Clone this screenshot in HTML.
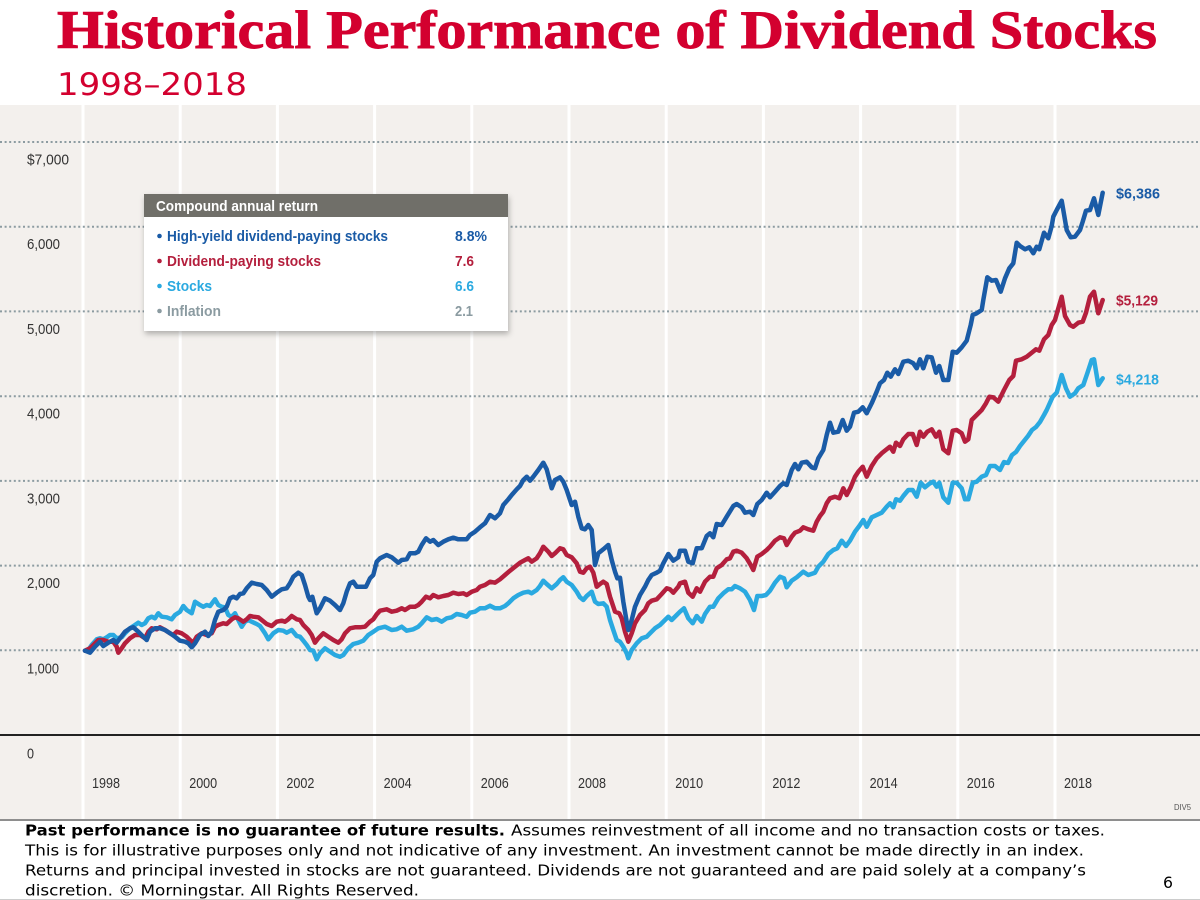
<!DOCTYPE html>
<html>
<head>
<meta charset="utf-8">
<style>
  html, body { margin:0; padding:0; background:#ffffff; }
  body { width:1200px; height:900px; overflow:hidden; }
  svg { display:block; }
</style>
</head>
<body>
<svg width="1200" height="900" viewBox="0 0 1200 900" xmlns="http://www.w3.org/2000/svg">
  <defs>
    <filter id="sh" x="-10%" y="-10%" width="125%" height="130%">
      <feDropShadow dx="1" dy="3" stdDeviation="3" flood-color="#000" flood-opacity="0.28"/>
    </filter>
  </defs>

  <!-- Title -->
  <text x="57" y="48" font-family="'Liberation Serif', serif" font-weight="bold" font-size="54" fill="#d3002f" stroke="#d3002f" stroke-width="0.9" textLength="1100" lengthAdjust="spacingAndGlyphs">Historical Performance of Dividend Stocks</text>
  <text x="57" y="95" font-family="'DejaVu Sans', 'Liberation Sans', sans-serif" font-size="31" fill="#d3002f" textLength="190" lengthAdjust="spacingAndGlyphs">1998–2018</text>

  <!-- Chart background -->
  <rect x="0" y="105" width="1200" height="714" fill="#f3f0ed"/>

  <!-- vertical white lines -->
  <g stroke="#ffffff" stroke-width="3">
    <line x1="83" y1="105" x2="83" y2="819"/>
    <line x1="180.2" y1="105" x2="180.2" y2="819"/>
    <line x1="277.4" y1="105" x2="277.4" y2="819"/>
    <line x1="374.6" y1="105" x2="374.6" y2="819"/>
    <line x1="471.8" y1="105" x2="471.8" y2="819"/>
    <line x1="569" y1="105" x2="569" y2="819"/>
    <line x1="666.2" y1="105" x2="666.2" y2="819"/>
    <line x1="763.4" y1="105" x2="763.4" y2="819"/>
    <line x1="860.6" y1="105" x2="860.6" y2="819"/>
    <line x1="957.8" y1="105" x2="957.8" y2="819"/>
    <line x1="1055" y1="105" x2="1055" y2="819"/>
  </g>

  <!-- dotted gridlines -->
  <g stroke="#8c9ba1" stroke-width="2" stroke-dasharray="2 2.6">
    <line x1="0" y1="142" x2="1200" y2="142"/>
    <line x1="0" y1="226.7" x2="1200" y2="226.7"/>
    <line x1="0" y1="311.4" x2="1200" y2="311.4"/>
    <line x1="0" y1="396.2" x2="1200" y2="396.2"/>
    <line x1="0" y1="480.9" x2="1200" y2="480.9"/>
    <line x1="0" y1="565.6" x2="1200" y2="565.6"/>
    <line x1="0" y1="650.3" x2="1200" y2="650.3"/>
  </g>
  <!-- zero axis -->
  <line x1="0" y1="735" x2="1200" y2="735" stroke="#222" stroke-width="2"/>

  <!-- Y labels -->
  <g font-family="'Liberation Sans', sans-serif" font-size="15" fill="#333">
    <text x="27" y="164.5" textLength="42" lengthAdjust="spacingAndGlyphs">$7,000</text>
    <text x="27" y="249.2" textLength="33" lengthAdjust="spacingAndGlyphs">6,000</text>
    <text x="27" y="333.9" textLength="33" lengthAdjust="spacingAndGlyphs">5,000</text>
    <text x="27" y="418.7" textLength="33" lengthAdjust="spacingAndGlyphs">4,000</text>
    <text x="27" y="503.4" textLength="33" lengthAdjust="spacingAndGlyphs">3,000</text>
    <text x="27" y="588.1" textLength="33" lengthAdjust="spacingAndGlyphs">2,000</text>
    <text x="27" y="673.3" textLength="32" lengthAdjust="spacingAndGlyphs">1,000</text>
    <text x="27" y="758.5" textLength="7" lengthAdjust="spacingAndGlyphs">0</text>
  </g>

  <!-- X labels -->
  <g font-family="'Liberation Sans', sans-serif" font-size="15" fill="#333">
    <text x="92" y="788" textLength="28" lengthAdjust="spacingAndGlyphs">1998</text>
    <text x="189.2" y="788" textLength="28" lengthAdjust="spacingAndGlyphs">2000</text>
    <text x="286.4" y="788" textLength="28" lengthAdjust="spacingAndGlyphs">2002</text>
    <text x="383.6" y="788" textLength="28" lengthAdjust="spacingAndGlyphs">2004</text>
    <text x="480.8" y="788" textLength="28" lengthAdjust="spacingAndGlyphs">2006</text>
    <text x="578" y="788" textLength="28" lengthAdjust="spacingAndGlyphs">2008</text>
    <text x="675.2" y="788" textLength="28" lengthAdjust="spacingAndGlyphs">2010</text>
    <text x="772.4" y="788" textLength="28" lengthAdjust="spacingAndGlyphs">2012</text>
    <text x="869.6" y="788" textLength="28" lengthAdjust="spacingAndGlyphs">2014</text>
    <text x="966.8" y="788" textLength="28" lengthAdjust="spacingAndGlyphs">2016</text>
    <text x="1064" y="788" textLength="28" lengthAdjust="spacingAndGlyphs">2018</text>
  </g>
  <text x="1174" y="810" font-family="'Liberation Sans', sans-serif" font-size="8" fill="#555" textLength="17" lengthAdjust="spacingAndGlyphs">DIV5</text>

  <!-- Series -->
  <g fill="none" stroke-width="4.5" stroke-linejoin="round" stroke-linecap="round">
    <polyline stroke="#2aa9e0" points="85,650.7 88.3,650 91.7,645 96.7,639.3 100,638.3 103.3,639.3 106.7,637.3 110,635 113.3,635 116.7,638.3 121.7,637.3 125,633.3 130,628.3 135,625 138.3,622.7 141.7,625 145,623.3 148.3,618.3 151.7,616.7 155,618.3 158.3,613.3 161.7,616.7 166.7,617.3 171.7,619.3 175,615 180,611.7 183.3,606 186.7,610 191.7,613.3 195,601.7 200,605 203.3,606.7 206.7,605 210,606 215,599.3 218.3,605 221.7,606.7 225,607.3 228.3,615 231.7,616.7 235,613.3 238.3,620 241.7,626.7 245,621.7 248.3,620 251.7,621.7 256.7,624 260,626 265,633.3 268.3,639.3 273.3,633.3 278.3,630 283.3,630.7 286.7,632.7 291.7,630 296.7,636 300,636.7 303.3,640.7 306.7,645 310,650 313.3,650.7 316.7,659.3 320,653.3 325,648.3 330,651.7 335,655 340,656.7 343.3,655 348.3,648.3 353.3,644 358.3,642.7 363.3,640.7 368.3,635 373.3,631.7 378.3,628.3 385,626.7 391.7,630 396.7,629.3 401.7,626.7 406.7,630.7 413.3,629.3 418.3,626.7 421.7,623.3 426.7,617.3 431.7,620 436.7,619 441.7,621.7 446.7,618.3 451.7,617.3 456.7,614 461.7,615 466.7,616.7 470,612.7 475,611.7 480,608.3 485,608.3 490,605.7 495,608.3 500,608.3 505,606 508.3,603.3 513.3,598.3 518.3,595 523.3,592.7 528.3,591.7 531.7,593.3 536.7,590 540,586 543.3,580.7 546.7,584 551.7,588.3 556.7,584 560,580 563.3,577.3 566.7,581.7 571.7,585 576.7,591.7 580,597.3 583.3,600 586.7,596 591.7,591.7 595,601.7 598.3,604 603.3,603.3 606.7,606.7 610,620 613.3,630 616.7,640 620,641.7 623.3,646.7 626.7,653.3 628.3,658.3 631.7,650 636.7,643.3 641.7,638.3 646.7,636.7 650,633.3 655,628.3 660,625 665,620 668.3,616.7 671.7,620 676.7,615 680,611.7 684,608.3 688.3,618.3 692.7,623.3 696.7,616 701.7,621.7 705,614 710,606.7 713.3,606.7 718.3,598.3 723.3,593.3 728.3,589.3 731.7,589.3 735,586 740,588.3 745,591.7 750,600 754,610 757.3,596 761.7,596 766,595 770,590.7 775,582.7 780,576.7 784,578.3 786.7,587.3 791.7,580.7 796.7,577.3 803.3,571.7 808.3,575 815,572.7 818.3,566.7 823.3,561.7 828.3,554 833.3,550 837.3,548.3 841.7,540.7 846,546 850,540.7 855,531.7 859.3,526 863.3,520 866.7,526.7 871.7,517.3 876.7,515 881.7,512.7 886.7,506.7 890,503.3 893.3,507.3 896,499.3 900,500.7 903.3,496 908.3,490 912.7,490 916.7,496.7 920.7,482.7 925,487.3 930,483.3 933.3,481.7 936.7,486.7 939.3,482.7 943.3,497.3 948.3,502.7 952.7,482.7 956.7,482.7 961.7,488.3 965,499.3 968.3,499.3 972.7,482.7 976.7,481.7 981.7,476.7 986,475 990,466 995,466 1000,470 1004,462 1008,463 1012,455 1016,452 1020,446 1024,441 1028,436 1032,430 1036,427 1040,422 1044,415 1046.7,410 1052.7,396.7 1056.7,392.7 1061.7,375 1066,388.3 1070,396.7 1075,393.3 1078.3,388.3 1083.3,385 1087.3,373.3 1091.7,360 1094,359.3 1098.3,385 1102.7,378.3"/>
    <polyline stroke="#b41f3d" points="85,650.7 90,648.3 95,643.3 98.3,640 103.3,640 108.3,641.7 113.3,641.7 116.7,646.7 118.3,652.7 121.7,648.3 125,643.3 130,638.3 135,635 140,635 145,638.3 148.3,631.7 151.7,628.3 156.7,629.3 160,627.3 165,630 170,633.3 173.3,635 176.7,631.7 181.7,633.3 186.7,636.7 190,640 193.3,642.7 196.7,636.7 201.7,633.3 206.7,635 211.7,633.3 215,626.7 218.3,625 223.3,623.3 226.7,624 231.7,619.3 235,617.3 238.3,618.3 243.3,621.7 246.7,619.3 250,616 253.3,616.7 258.3,617.3 261.7,620 266.7,624 271.7,626 276.7,621.7 281.7,620.7 285,621.7 288.3,619.3 291.7,616 296.7,619.3 300,620 303.3,625 308.3,630 311.7,635 315,642.7 318.3,638.3 323.3,633.3 328.3,636.7 333.3,640 338.3,642.7 341.7,639.3 345,633.3 350,628.3 355,627.3 360,627.3 365,626.7 370,621.7 373.3,619.3 376.7,614.3 380,610.7 386.7,609.3 391.7,611.7 396.7,610.7 401.7,608.3 405,610 410,606.7 415,606.7 418.3,605 421.7,601.7 426,596.7 430,598.3 433.3,595 438.3,597.3 443.3,596 448.3,595 453.3,592.7 458.3,594 463.3,593.3 466.7,595 471.7,591.7 476.7,590 480,586.7 485,585 490,581.7 495,582.7 500,579.3 505,575 510,570.7 515,566.7 520,562.7 525,560 528.3,558.3 531.7,561.7 536.7,558.3 540,553.3 543.3,546.7 548.3,551.7 551.7,556 555,553.3 560,548.3 563.3,549.3 566.7,555 571.7,557.3 576.7,563.3 580,571.7 583.3,572.7 586.7,568.3 590,566.7 593.3,572.7 596.7,586.7 600,584 603.3,581.7 606.7,584 610,596.7 615,611.7 619.3,613.3 621.7,618.3 625,631.7 628.3,641.7 631.7,633.3 635,623.3 640,615 645,610 648.3,603.3 651.7,600.7 656.7,599.3 661.7,594 666.7,588.3 670,589.3 673.3,592.7 678.3,586.7 680,583.3 685,581.7 688.3,592.7 692.7,596.7 696.7,588.3 700,591.7 705,581.7 710,576.7 713.3,576.7 716.7,568.3 721.7,565 726.7,559.3 730,558.3 733.3,551.7 736.7,550.7 741.7,552.7 746.7,558.3 750.7,565 753.3,570 757.3,556.7 761.7,554 766.7,550 770,546.7 775,540.7 780,537.3 784,538.3 786.7,545 791.7,536.7 795,532.7 800,530.7 803.3,527.3 808.3,529.3 813.3,530.7 816.7,521.7 820,516 823.3,511.7 826.7,503.3 830,498.3 835,496.7 839.3,498.3 843.3,488.3 846.7,495 850.7,487.3 855,476.7 858.3,471.7 862.7,466.7 866.7,476.7 871.7,466 876.7,458.3 881.7,453.3 886.7,449.3 890,446.7 893.3,451.7 896,442.7 900,446 903.3,439.3 908.3,434 912.7,434 916.7,445 920,431.7 923.3,436.7 927.3,431.7 931.7,429.3 936,436.7 939.3,431.7 943.3,449.3 948.3,453.3 952.7,430.7 956.7,430 961.7,433.3 965,441.7 968.3,439.3 971.7,420 976.7,415 981.7,410 986,403.3 989.3,396.7 993.3,397.3 998.3,401.7 1004,390 1009.3,380 1013.3,376 1016,360.7 1021.7,359.3 1026.7,356.7 1031.7,352.7 1036,349.3 1039.3,350.7 1044,339.3 1048.3,335 1051.7,325 1055,320 1058.3,308.3 1061.7,296.7 1065,316 1070,325 1073.3,326.7 1078.3,322.7 1082.7,321.7 1086,312.7 1090,296.7 1094,291.7 1098.3,313.3 1102.7,300"/>
    <polyline stroke="#1a5ba6" points="85,650.7 90,652.7 95,646.7 100,641.7 103.3,646 108.3,642.7 113.3,640 116.7,642.7 120,638.3 125,631.7 130,628.3 133.3,627.3 138.3,631.7 143.3,636.7 146.7,640 150,631.7 155,628.3 160,628.3 165,630 170,633.3 175,636.7 180,640.7 185,641.7 188.3,643.3 191.7,647.3 195,643.3 200,635 205,631.7 208.3,636 211.7,631.7 215,620 218.3,611.7 223.3,610 226.7,606.7 230,598.3 233.3,596.7 236.7,598.3 240,594 243.3,593.3 246.7,588.3 251.7,582.7 256.7,584 261.7,585 266.7,590 271.7,596.7 276.7,592.7 281.7,589.3 286.7,588.3 290,583.3 293.3,576.7 298.3,572.7 301.7,575 305,585 308.3,596.7 310,600 312.3,596.7 316.7,613.3 320,608.3 325,598.3 330,600.7 335,605 340,610 343.3,603.3 346.7,591.7 350,583.3 353.3,581.7 356.7,586.7 361.7,586.7 366,586.7 370,578.3 373.3,575 376.7,561.7 380,558.3 386.7,555 391.7,557.3 398.3,562.7 401.7,560 406.7,559.3 410,553.3 415,553.3 418.3,551.7 421.7,545 426,538.3 430,541.7 433.3,540 438.3,545 443.3,541.7 448.3,539.3 453.3,537.7 458.3,539.3 466.7,539.3 470,535 475,531.7 480,527.3 485,523.3 490,515 495,518.3 500,513.3 503.3,505 508.3,499.3 511.7,495 516.7,489.3 520,486 523.3,480 526.7,476.7 530,480.7 533.3,476.7 538.3,470 543.3,462.7 546.7,469.3 551.7,488.3 555,480 560,477.3 563.3,481.7 566.7,490 571.7,505 575,501.7 578.3,516.7 581.7,528.3 585,529.3 588.3,525 591.7,530 595,565 598.3,553.3 603.3,549.3 608.3,545 611.7,560 615,571.7 617.3,578.3 620,577.7 623.3,601.7 626.7,621.7 628.3,630 631.7,620 635,606.7 640,595 645,586.7 648.3,580 651.7,575 656.7,572.7 660,570.7 663.3,563.3 668.3,554 673.3,560.7 678.3,557.3 680,550.7 685,550.7 688.3,561.7 692.7,563.3 696.7,548.3 701.7,548.3 706.7,536 710,533.3 713.3,537.3 716.7,524 721.7,525 726.7,516.7 733.3,506 736.7,504 741.7,507.3 745,512.7 750,511.7 753.3,515 757.3,504 761.7,500 766.7,492.7 770,497.3 775,491.7 780,486 783.3,483.3 786.7,485 791.7,470 795,464 798.3,469.3 801.7,462.7 806.7,461.7 811.7,467.3 815,468.3 818.3,458.3 823.3,450 826.7,435 830,422.7 833.3,432.7 838.3,431.7 842.7,420 846.7,430.7 850,426.7 854,412.7 858.3,411.7 862.7,407.3 866.7,413.3 871.7,403.3 876.7,391.7 880,383.3 884,380 887.3,372.7 890.7,376.7 895,369.3 898.3,374 903.3,361.7 908.3,360.7 913.3,363.3 916.7,368.3 920,359.3 923.3,368.3 927.3,356.7 931.7,357.3 936,372.7 939.3,366 943.3,380 948.3,380 952.7,351.7 956.7,352.7 961.7,347.3 966.7,340.7 970.7,325 972.7,315 976.7,313.3 981.7,310 983.3,300 987.3,277.3 991.7,280.7 996,280 1000.7,291.7 1005,278.3 1009.3,268.3 1013.3,263.3 1016.7,242.7 1020,246 1025,249.3 1029.3,247.3 1033.3,253.3 1036.7,246.7 1039.3,249.3 1044,232.7 1048.3,238.3 1051.7,226 1053.3,216.7 1056.7,210 1061.7,200.7 1065,220 1066.7,230 1070.7,237.3 1075,236.7 1080,230 1082.7,221.7 1086,210.7 1090,210 1094,198.3 1098.3,215 1102.7,192.7"/>
  </g>

  <!-- End labels -->
  <g font-family="'Liberation Sans', sans-serif" font-weight="bold" font-size="15">
    <text x="1116" y="198.5" fill="#1a5ba6" textLength="44" lengthAdjust="spacingAndGlyphs">$6,386</text>
    <text x="1116" y="305.5" fill="#b41f3d" textLength="42" lengthAdjust="spacingAndGlyphs">$5,129</text>
    <text x="1116" y="384.5" fill="#2aa9e0" textLength="43" lengthAdjust="spacingAndGlyphs">$4,218</text>
  </g>

  <!-- Legend -->
  <g filter="url(#sh)">
    <rect x="144" y="194" width="364" height="137" fill="#ffffff"/>
  </g>
  <rect x="144" y="194" width="364" height="23" fill="#706f69"/>
  <g font-family="'Liberation Sans', sans-serif" font-weight="bold" font-size="15">
    <text x="156" y="211" fill="#ffffff" textLength="162" lengthAdjust="spacingAndGlyphs">Compound annual return</text>
    <circle cx="159.5" cy="236" r="2.3" fill="#1a5ba6"/>
    <text x="167" y="241" fill="#1a5ba6" textLength="221" lengthAdjust="spacingAndGlyphs">High-yield dividend-paying stocks</text>
    <text x="455" y="241" fill="#1a5ba6" textLength="32" lengthAdjust="spacingAndGlyphs">8.8%</text>
    <circle cx="159.5" cy="261" r="2.3" fill="#b41f3d"/>
    <text x="167" y="266" fill="#b41f3d" textLength="154" lengthAdjust="spacingAndGlyphs">Dividend-paying stocks</text>
    <text x="455" y="266" fill="#b41f3d" textLength="19" lengthAdjust="spacingAndGlyphs">7.6</text>
    <circle cx="159.5" cy="286" r="2.3" fill="#2aa9e0"/>
    <text x="167" y="291" fill="#2aa9e0" textLength="45" lengthAdjust="spacingAndGlyphs">Stocks</text>
    <text x="455" y="291" fill="#2aa9e0" textLength="19" lengthAdjust="spacingAndGlyphs">6.6</text>
    <circle cx="159.5" cy="311" r="2.3" fill="#8b9ba1"/>
    <text x="167" y="316" fill="#8b9ba1" textLength="54" lengthAdjust="spacingAndGlyphs">Inflation</text>
    <text x="455" y="316" fill="#8b9ba1" textLength="18" lengthAdjust="spacingAndGlyphs">2.1</text>
  </g>

  <!-- bottom rule -->
  <line x1="0" y1="820" x2="1200" y2="820" stroke="#8e8e8e" stroke-width="2"/>
  <line x1="0" y1="899.5" x2="1200" y2="899.5" stroke="#cccccc" stroke-width="1"/>

  <!-- Footer -->
  <g font-family="'DejaVu Sans', 'Liberation Sans', sans-serif" font-size="15" fill="#000">
    <text x="25" y="835.5" font-weight="bold" textLength="480" lengthAdjust="spacingAndGlyphs">Past performance is no guarantee of future results.</text>
    <text x="511" y="835.5" textLength="594" lengthAdjust="spacingAndGlyphs">Assumes reinvestment of all income and no transaction costs or taxes.</text>
    <text x="25" y="855.5" textLength="1059" lengthAdjust="spacingAndGlyphs">This is for illustrative purposes only and not indicative of any investment. An investment cannot be made directly in an index.</text>
    <text x="25" y="875.5" textLength="1061" lengthAdjust="spacingAndGlyphs">Returns and principal invested in stocks are not guaranteed. Dividends are not guaranteed and are paid solely at a company’s</text>
    <text x="25" y="895.5" textLength="394" lengthAdjust="spacingAndGlyphs">discretion. © Morningstar. All Rights Reserved.</text>
    <text x="1163" y="888" font-size="16" textLength="10" lengthAdjust="spacingAndGlyphs">6</text>
  </g>
</svg>
</body>
</html>
